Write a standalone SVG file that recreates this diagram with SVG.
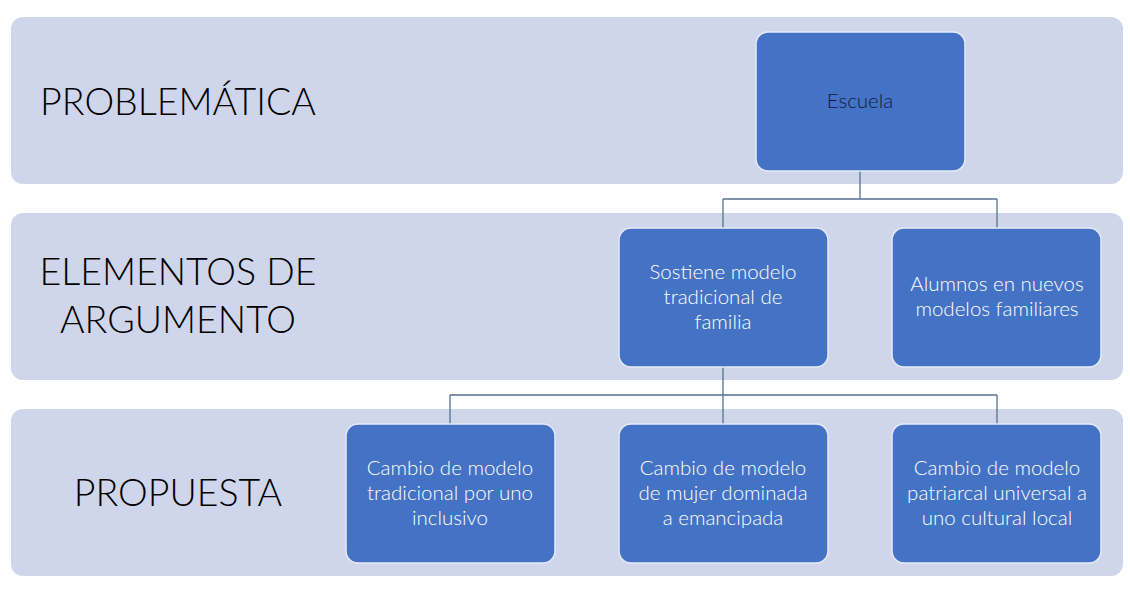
<svg xmlns="http://www.w3.org/2000/svg" width="1130" height="594" viewBox="0 0 1130 594">
<style>
.band{fill:#cfd5ea}
.box{fill:#4472c4;stroke:#e6ebf5;stroke-width:1.5}
.lbl{font-family:Lato,"Open Sans",sans-serif;font-size:37.5px;font-weight:300;fill:#000;text-anchor:middle}
.t{font-family:Lato,"Open Sans",sans-serif;font-size:20.5px;font-weight:300;fill:#fff;text-anchor:middle}
.dark{fill:#0e1c3c}
.con{fill:none;stroke:#56708f;stroke-width:1.3}
</style>
<rect width="1130" height="594" fill="#fff"/>
<g id="band-problematica"><rect class="band" x="11" y="17" width="1112" height="167" rx="12"/>
<text class="lbl" x="178" y="115">PROBLEMÁTICA</text></g>
<g id="band-elementos"><rect class="band" x="11" y="213" width="1112" height="167" rx="12"/>
<text class="lbl" x="178" y="285">ELEMENTOS DE</text><text class="lbl" x="178" y="333">ARGUMENTO</text></g>
<g id="band-propuesta"><rect class="band" x="11" y="409" width="1112" height="167" rx="12"/>
<text class="lbl" x="178" y="506">PROPUESTA</text></g>
<g id="connectors">
<path class="con" d="M860 171V199M723 199H997M723 199V228M997 199V228"/>
<path class="con" d="M723 367V395M450 395H997M450 395V424M723 395V424M997 395V424"/>
</g>
<g id="escuela"><rect class="box" x="756" y="32" width="209" height="139" rx="12"/>
<text class="t dark" x="860" y="108">Escuela</text></g>
<g id="sostiene"><rect class="box" x="619" y="228" width="209" height="139" rx="12"/>
<text class="t" x="723" y="279">Sostiene modelo</text><text class="t" x="723" y="304">tradicional de</text><text class="t" x="723" y="329">familia</text></g>
<g id="alumnos"><rect class="box" x="892" y="228" width="209" height="139" rx="12"/>
<text class="t" x="997" y="291">Alumnos en nuevos</text><text class="t" x="997" y="316">modelos familiares</text></g>
<g id="cambio1"><rect class="box" x="346" y="424" width="209" height="139" rx="12"/>
<text class="t" x="450" y="475">Cambio de modelo</text><text class="t" x="450" y="500">tradicional por uno</text><text class="t" x="450" y="525">inclusivo</text></g>
<g id="cambio2"><rect class="box" x="619" y="424" width="209" height="139" rx="12"/>
<text class="t" x="723" y="475">Cambio de modelo</text><text class="t" x="723" y="500">de mujer dominada</text><text class="t" x="723" y="525">a emancipada</text></g>
<g id="cambio3"><rect class="box" x="892" y="424" width="209" height="139" rx="12"/>
<text class="t" x="997" y="475">Cambio de modelo</text><text class="t" x="997" y="500">patriarcal universal a</text><text class="t" x="997" y="525">uno cultural local</text></g>
</svg>
